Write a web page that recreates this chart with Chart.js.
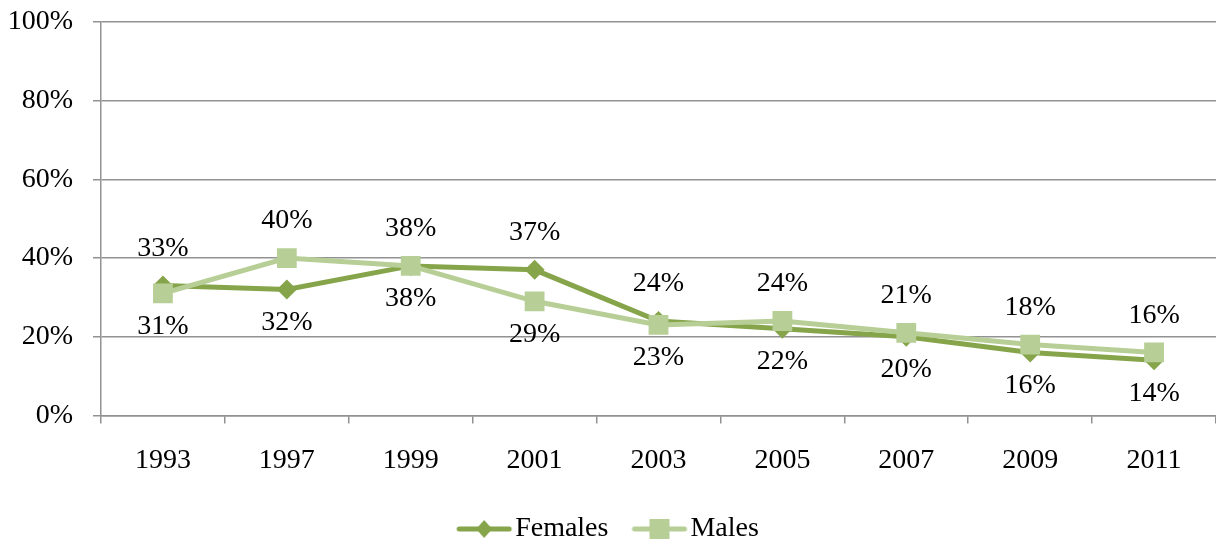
<!DOCTYPE html>
<html>
<head>
<meta charset="utf-8">
<script src="https://cdn.jsdelivr.net/npm/chart.js@4/dist/chart.umd.min.js"></script>
<style>
  html, body { margin: 0; padding: 0; background: #fff; }
  #wrap { width: 1216px; height: 541px; }
</style>
</head>
<body>
<div id="wrap"><canvas id="lineChart"></canvas></div>
<script>
const years = ['1993', '1997', '1999', '2001', '2003', '2005', '2007', '2009', '2011'];
const females = [33, 32, 38, 37, 24, 22, 20, 16, 14];
const males = [31, 40, 38, 29, 23, 24, 21, 18, 16];
const yTicks = [0, 20, 40, 60, 80, 100];

const femaleColor = '#86a44a';
const maleColor = '#b7cf96';
const gridColor = '#929292';
const fontFamily = '"Liberation Serif", "Times New Roman", serif';
const fontSize = 28;

// legend symbol: line with the marker in the middle (transparent margin on the left)
function legendIcon(color, style) {
    const c = document.createElement('canvas');
    c.width = 68;
    c.height = 22;
    const g = c.getContext('2d');
    g.strokeStyle = color;
    g.lineWidth = 5;
    g.lineCap = 'round';
    g.beginPath();
    g.moveTo(14, 11);
    g.lineTo(64, 11);
    g.stroke();
    g.fillStyle = color;
    const mid = 39;
    if (style === 'rectRot') {
        g.beginPath();
        g.moveTo(mid, 2);
        g.lineTo(mid + 8, 11);
        g.lineTo(mid, 20);
        g.lineTo(mid - 8, 11);
        g.closePath();
        g.fill();
    } else {
        g.fillRect(mid - 10, 1, 20, 20);
    }
    return c;
}

// value labels above the higher point, below the lower one
const valueLabels = {
    id: 'valueLabels',
    afterDatasetsDraw(chart) {
        const ctx = chart.ctx;
        ctx.save();
        ctx.font = fontSize + 'px ' + fontFamily;
        ctx.fillStyle = '#000';
        ctx.textAlign = 'center';
        ctx.textBaseline = 'middle';
        chart.data.datasets.forEach((ds, di) => {
            const other = chart.data.datasets[1 - di].data;
            const meta = chart.getDatasetMeta(di);
            meta.data.forEach((pt, i) => {
                const v = ds.data[i];
                let above = v > other[i];
                if (v === other[i]) above = ds.label === 'Males';
                const y = above ? pt.y - 37 : pt.y + 33;
                ctx.fillText(v + '%', pt.x, y);
            });
        });
        ctx.restore();
    }
};

const ctx = document.getElementById('lineChart').getContext('2d');
new Chart(ctx, {
    type: 'line',
    data: {
        labels: years,
        datasets: [{
            label: 'Females',
            data: females,
            order: 1,
            borderColor: femaleColor,
            backgroundColor: femaleColor,
            borderWidth: 5,
            pointStyle: 'rectRot',
            pointRadius: 10,
            pointHoverRadius: 10,
            pointBorderWidth: 0,
            tension: 0
        }, {
            label: 'Males',
            data: males,
            order: 0,
            borderColor: maleColor,
            backgroundColor: maleColor,
            borderWidth: 5,
            pointStyle: 'rect',
            pointRadius: 14,
            pointHoverRadius: 14,
            pointBorderWidth: 0,
            tension: 0
        }]
    },
    options: {
        responsive: true,
        maintainAspectRatio: false,
        animation: false,
        layout: { autoPadding: false, padding: { top: 22, right: 0, left: 0, bottom: -12 } },
        plugins: {
            tooltip: { enabled: false },
            legend: {
                position: 'bottom',
                labels: {
                    usePointStyle: true,
                    pointStyleWidth: 44,
                    font: { family: fontFamily, size: fontSize },
                    color: '#000',
                    padding: 24,
                    generateLabels: function(chart) {
                        return chart.data.datasets.map((ds, i) => ({
                            text: ds.label,
                            datasetIndex: i,
                            pointStyle: legendIcon(ds.borderColor, ds.pointStyle),
                            fillStyle: ds.borderColor,
                            strokeStyle: ds.borderColor,
                            lineWidth: 0,
                            fontColor: '#000'
                        }));
                    }
                }
            }
        },
        scales: {
            x: {
                offset: true,
                afterFit: function(axis) {
                    axis.paddingLeft = 0;
                    axis.paddingRight = 0;
                    axis.height -= 6;
                },
                grid: {
                    offset: true,
                    drawOnChartArea: false,
                    drawTicks: true,
                    tickLength: 8,
                    color: gridColor,
                    lineWidth: 1.5
                },
                border: { color: gridColor, width: 1.5 },
                ticks: {
                    font: { family: fontFamily, size: fontSize },
                    color: '#000',
                    padding: 20
                }
            },
            y: {
                min: 0,
                max: 100,
                afterBuildTicks: function(axis) {
                    axis.ticks = yTicks.map(v => ({ value: v }));
                },
                afterFit: function(axis) {
                    axis.width = 101;
                    axis.paddingTop = 0;
                    axis.paddingBottom = 0;
                },
                grid: {
                    color: gridColor,
                    lineWidth: 1.5,
                    drawTicks: true,
                    tickLength: 8
                },
                border: { color: gridColor, width: 1.5 },
                ticks: {
                    font: { family: fontFamily, size: fontSize },
                    color: '#000',
                    padding: 20,
                    callback: function(value) {
                        return value + '%';
                    }
                }
            }
        }
    },
    plugins: [valueLabels]
});
</script>
</body>
</html>
